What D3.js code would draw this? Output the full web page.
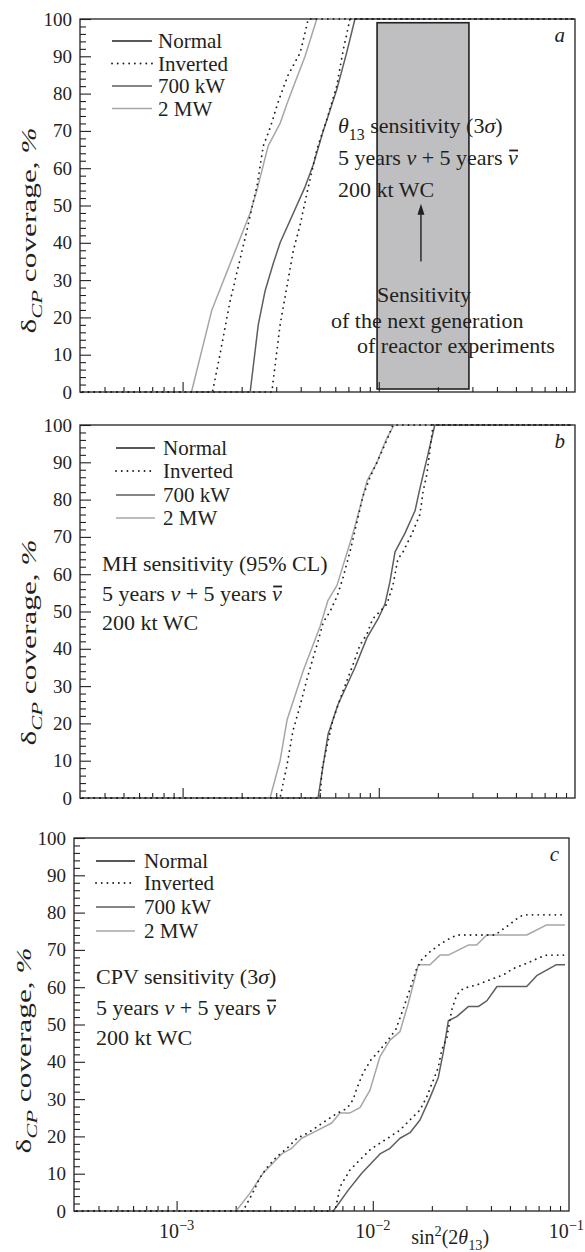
<!DOCTYPE html>
<html>
<head>
<meta charset="utf-8">
<script src="https://cdnjs.cloudflare.com/ajax/libs/d3/7.8.5/d3.min.js"></script>
<style>
  html, body { margin: 0; padding: 0; background: #fff; }
  svg { display: block; }
  text { font-family: "Liberation Serif", "Times New Roman", serif; fill: #231f20; }
</style>
</head>
<body>
<svg id="fig" width="585" height="1252" font-family="Liberation Serif"></svg>
<script>
// ---------------- data: sin^2(2θ13) vs δCP coverage (%) ----------------
const X_MIN = 3e-4, X_MAX = 0.1;

// (a) θ13 sensitivity (3σ)
const a700NormalX = [3.1e-4, 2.21e-3, 2.43e-3, 2.63e-3, 2.90e-3, 3.14e-3, 4.21e-3, 4.64e-3, 5.21e-3, 6.10e-3, 6.86e-3, 7.56e-3, 0.098];
const a700NormalY = [0, 0, 18, 27, 34.5, 40, 55, 61, 70, 81, 91, 100, 100];
const a700InvertedX = [3.1e-4, 2.85e-3, 3.14e-3, 3.67e-3, 3.98e-3, 4.29e-3, 4.83e-3, 5.43e-3, 6.10e-3, 6.59e-3, 7.13e-3, 0.098];
const a700InvertedY = [0, 0, 18, 38, 45, 53, 65, 73, 82, 91.7, 100, 100];
const a2MWNormalX = [3.1e-4, 1.11e-3, 1.41e-3, 2.21e-3, 2.39e-3, 2.73e-3, 3.14e-3, 3.39e-3, 3.74e-3, 4.21e-3, 4.83e-3, 0.098];
const a2MWNormalY = [0, 0, 22, 48, 54, 66, 72, 77, 83, 90, 100, 100];
const a2MWInvertedX = [3.1e-4, 1.42e-3, 1.55e-3, 1.74e-3, 2.12e-3, 2.29e-3, 2.39e-3, 2.58e-3, 2.80e-3, 3.08e-3, 3.45e-3, 3.98e-3, 4.37e-3, 0.098];
const a2MWInvertedY = [0, 0, 10, 24, 43, 51, 55, 66, 71, 78, 85, 91, 100, 100];
const reactorBandX = [0.0098, 0.0288];
const reactorBandY = [0.8, 99];
const reactorArrowX = 0.0164;
const reactorArrowY = [35, 50.5];

// (b) MH sensitivity (95% CL)
const b700NormalX = [3.1e-4, 4.90e-3, 5.51e-3, 6.19e-3, 7.56e-3, 8.71e-3, 9.91e-3, 1.075e-2, 1.14e-2, 1.21e-2, 1.36e-2, 1.53e-2, 1.62e-2, 1.76e-2, 1.93e-2, 0.098];
const b700NormalY = [0, 0, 17, 25, 35, 43, 48, 52, 58, 66, 71, 77, 83, 91, 100, 100];
const b700InvertedX = [3.1e-4, 5.02e-3, 5.14e-3, 5.45e-3, 5.84e-3, 6.49e-3, 7.30e-3, 8.02e-3, 8.71e-3, 9.30e-3, 1.014e-2, 1.10e-2, 1.18e-2, 1.25e-2, 1.33e-2, 1.48e-2, 1.62e-2, 1.68e-2, 1.76e-2, 1.82e-2, 1.89e-2, 0.098];
const b700InvertedY = [0, 0, 8, 14, 21, 28, 35, 41, 44, 48, 50, 52, 57, 64, 66, 71, 76, 82, 87, 93, 100, 100];
const b2MWNormalX = [3.1e-4, 2.79e-3, 3.14e-3, 3.41e-3, 4.11e-3, 5.02e-3, 5.51e-3, 6.12e-3, 7.39e-3, 8.71e-3, 9.79e-3, 1.088e-2, 1.196e-2, 0.098];
const b2MWNormalY = [0, 0, 10, 21, 34, 46, 53, 57, 71, 85, 90, 96, 100, 100];
const b2MWInvertedX = [3.1e-4, 3.14e-3, 3.41e-3, 3.65e-3, 3.98e-3, 4.31e-3, 4.90e-3, 5.20e-3, 5.64e-3, 6.12e-3, 6.57e-3, 7.13e-3, 7.74e-3, 8.31e-3, 9.02e-3, 9.79e-3, 1.10e-2, 1.18e-2, 0.098];
const b2MWInvertedY = [0, 0, 9, 18, 25, 32, 42, 47, 50, 54, 59, 66, 74, 81, 86, 90, 96, 100, 100];

// (c) CPV sensitivity (3σ)
const c700NormalX = [3.1e-4, 6.29e-3, 7.50e-3, 8.78e-3, 1.088e-2, 1.224e-2, 1.376e-2, 1.547e-2, 1.74e-2, 1.957e-2, 2.157e-2, 2.287e-2, 2.426e-2, 2.677e-2, 3.067e-2, 3.45e-2, 3.82e-2, 4.295e-2, 6.087e-2, 6.845e-2, 8.586e-2, 9.54e-2];
const c700NormalY = [0, 0, 5.6, 10.1, 15.3, 16.8, 19.5, 21, 24.4, 30.4, 35.8, 42.5, 51, 52.1, 54.8, 54.8, 56.4, 60.2, 60.2, 63.1, 66, 66];
const c700InvertedX = [3.1e-4, 6.42e-3, 6.81e-3, 7.65e-3, 8.60e-3, 9.68e-3, 1.088e-2, 1.224e-2, 1.376e-2, 1.547e-2, 1.74e-2, 1.883e-2, 2.034e-2, 2.157e-2, 2.245e-2, 2.381e-2, 2.525e-2, 2.677e-2, 2.893e-2, 3.384e-2, 3.956e-2, 4.626e-2, 5.202e-2, 6.087e-2, 7.115e-2, 7.696e-2, 9.54e-2];
const c700InvertedY = [0, 0, 6.5, 11, 13.7, 16.4, 18.2, 19.9, 21.7, 24.4, 27.1, 30.6, 35.1, 38.5, 43.2, 46.3, 53.9, 57.9, 59.7, 60.6, 62, 63.3, 65, 66.4, 68, 68.6, 68.6];
const c2MWNormalX = [3.1e-4, 2.009e-3, 2.366e-3, 2.766e-3, 3.434e-3, 3.86e-3, 4.342e-3, 5.076e-3, 6.173e-3, 6.806e-3, 7.652e-3, 8.603e-3, 9.676e-3, 1.088e-2, 1.224e-2, 1.376e-2, 1.517e-2, 1.706e-2, 1.957e-2, 2.2e-2, 2.426e-2, 3.067e-2, 3.384e-2, 3.806e-2, 6.087e-2, 7.696e-2, 9.54e-2];
const c2MWNormalY = [0, 0, 4.8, 10.2, 15.3, 16.8, 19.5, 21.3, 23.6, 26.3, 26.3, 27.7, 32.4, 41.4, 45.8, 48.1, 55.7, 66, 66, 68.6, 68.6, 71.3, 71.3, 74, 74, 76.7, 76.7];
const c2MWInvertedX = [3.1e-4, 2.179e-3, 2.451e-3, 2.661e-3, 2.924e-3, 3.249e-3, 3.653e-3, 4.108e-3, 4.619e-3, 5.076e-3, 5.842e-3, 6.569e-3, 7.387e-3, 7.925e-3, 8.306e-3, 8.916e-3, 9.79e-3, 1.088e-2, 1.224e-2, 1.313e-2, 1.425e-2, 1.547e-2, 1.674e-2, 1.781e-2, 1.957e-2, 2.2e-2, 2.475e-2, 2.686e-2, 4.197e-2, 4.888e-2, 5.627e-2, 6.038e-2, 9.54e-2];
const c2MWInvertedY = [0, 0, 5, 9, 12, 14.6, 16.8, 19.5, 20.8, 22.2, 24.4, 26.2, 27.5, 29.8, 33, 37, 40.5, 43.2, 46.5, 48.8, 54, 59.5, 65, 67.5, 69.5, 71.5, 73.1, 74, 74, 76.5, 79, 79.4, 79.4];

// axis ticks and labels
const yMajorTicks = [0, 10, 20, 30, 40, 50, 60, 70, 80, 90, 100];
const yMinorTicks = d3.range(0, 101, 2).filter(v => v % 10 !== 0);
const xMajorTicks = [1e-3, 1e-2, 1e-1];
const xMajorExponents = ["\u22123", "\u22122", "\u22121"];
const xMinorTicks = [4e-4, 5e-4, 6e-4, 7e-4, 8e-4, 9e-4,
                     2e-3, 3e-3, 4e-3, 5e-3, 6e-3, 7e-3, 8e-3, 9e-3,
                     2e-2, 3e-2, 4e-2, 5e-2, 6e-2, 7e-2, 8e-2, 9e-2];
const legendLabels = ["Normal", "Inverted", "700 kW", "2 MW"];

// ---------------- styles ----------------
const INK = "#231f20";
const NOTE_SIZE = 22;
const STYLE = {
  normal:   { stroke: INK,       width: 1.5, dash: null },
  inverted: { stroke: INK,       width: 1.8, dash: "0.1 5.6" },
  kw700:    { stroke: "#5e5e5e", width: 1.5, dash: null },
  mw2:      { stroke: "#a6a6a6", width: 1.5, dash: null }
};
const legendStyles = [STYLE.normal, STYLE.inverted, STYLE.kw700, STYLE.mw2];

const svg = d3.select("#fig");

// rich text helper: parts = [{t, it, sub, sup, cls}]
function richText(parent, x, y, parts, size, anchor) {
  const t = parent.append("text")
    .attr("x", x).attr("y", y)
    .attr("font-size", size)
    .attr("text-anchor", anchor || "start");
  let shift = 0;
  parts.forEach(p => {
    const ts = t.append("tspan").text(p.t);
    if (p.it) ts.attr("font-style", "italic");
    if (p.cls) ts.attr("class", p.cls);
    let target = 0;
    if (p.sub) { target = size * 0.3; ts.attr("font-size", size * 0.72); }
    if (p.sup) { target = -size * 0.38; ts.attr("font-size", size * 0.72); }
    if (target !== shift) { ts.attr("dy", target - shift); shift = target; }
  });
  return t;
}

// put an overbar above every tspan tagged "bar"
function addOverbars(parent, textSel, size) {
  textSel.selectAll("tspan.bar").each(function () {
    const start = this.getStartPositionOfChar(0);
    const w = this.getComputedTextLength();
    parent.append("line")
      .attr("x1", start.x + w * 0.12).attr("x2", start.x + w * 1.02)
      .attr("y1", start.y - size * 0.66).attr("y2", start.y - size * 0.66)
      .attr("stroke", INK).attr("stroke-width", 1.8);
  });
}

const beamLine = [
  { t: "5 years " }, { t: "\u03bd", it: true }, { t: " + 5 years  " }, { t: "\u03bd", it: true, cls: "bar" }
];

const panels = [
  {
    id: "a", box: { l: 80, t: 19, r: 575, b: 392 },
    curves: [
      { x: a2MWNormalX, y: a2MWNormalY, s: STYLE.mw2 },
      { x: a700NormalX, y: a700NormalY, s: STYLE.kw700 },
      { x: a2MWInvertedX, y: a2MWInvertedY, s: STYLE.inverted },
      { x: a700InvertedX, y: a700InvertedY, s: STYLE.inverted }
    ],
    legend: { x0: 32, x1: 72, tx: 78, rows: [22, 44.5, 67, 89.5] },
    notes: { x: 258, rows: [114, 146, 178],
      lines: [[{ t: "\u03b8", it: true }, { t: "13", sub: true }, { t: " sensitivity (3" }, { t: "\u03c3", it: true }, { t: ")" }], beamLine, [{ t: "200 kt WC" }]] },
    title: { x: 36, shift: 25 }, xLabels: false
  },
  {
    id: "b", box: { l: 80, t: 425, r: 575, b: 798 },
    curves: [
      { x: b2MWNormalX, y: b2MWNormalY, s: STYLE.mw2 },
      { x: b700NormalX, y: b700NormalY, s: STYLE.kw700 },
      { x: b2MWInvertedX, y: b2MWInvertedY, s: STYLE.inverted },
      { x: b700InvertedX, y: b700InvertedY, s: STYLE.inverted }
    ],
    legend: { x0: 36, x1: 75, tx: 83, rows: [23, 46, 70, 93] },
    notes: { x: 22, rows: [146, 176, 205],
      lines: [[{ t: "MH sensitivity (95% CL)" }], beamLine, [{ t: "200 kt WC" }]] },
    title: { x: 36, shift: 31 }, xLabels: false
  },
  {
    id: "c", box: { l: 74, t: 838, r: 569, b: 1211 },
    curves: [
      { x: c2MWNormalX, y: c2MWNormalY, s: STYLE.mw2 },
      { x: c700NormalX, y: c700NormalY, s: STYLE.kw700 },
      { x: c2MWInvertedX, y: c2MWInvertedY, s: STYLE.inverted },
      { x: c700InvertedX, y: c700InvertedY, s: STYLE.inverted }
    ],
    legend: { x0: 22, x1: 61, tx: 70, rows: [23, 45, 69, 93] },
    notes: { x: 22, rows: [146, 177, 207],
      lines: [[{ t: "CPV sensitivity (3" }, { t: "\u03c3", it: true }, { t: ")" }], beamLine, [{ t: "200 kt WC" }]] },
    title: { x: 31, shift: 26 }, xLabels: true
  }
];

panels.forEach(p => {
  const { l, t, r, b } = p.box;
  const x = d3.scaleLog().domain([X_MIN, X_MAX]).range([l, r]);
  const y = d3.scaleLinear().domain([0, 100]).range([b, t]);
  const g = svg.append("g").attr("class", "panel-" + p.id);

  // reactor-experiment band (panel a)
  if (p.id === "a") {
    g.append("rect")
      .attr("x", x(reactorBandX[0])).attr("width", x(reactorBandX[1]) - x(reactorBandX[0]))
      .attr("y", y(reactorBandY[1])).attr("height", y(reactorBandY[0]) - y(reactorBandY[1]))
      .attr("fill", "#bfbfc1").attr("stroke", INK).attr("stroke-width", 1.6);
  }

  // ticks (inside the frame)
  const axes = [
    { gen: d3.axisLeft(y).tickValues(yMinorTicks).tickSize(-6).tickFormat(""), tr: `translate(${l},0)` },
    { gen: d3.axisLeft(y).tickValues(yMajorTicks).tickSize(-11).tickPadding(8).tickFormat(d3.format("d")), tr: `translate(${l},0)` },
    { gen: d3.axisBottom(x).tickValues(xMinorTicks).tickSize(-5).tickFormat(""), tr: `translate(0,${b})` },
    { gen: d3.axisBottom(x).tickValues(xMajorTicks.slice(0, 2)).tickSize(-10).tickFormat(""), tr: `translate(0,${b})` }
  ];
  axes.forEach(a => {
    const ag = g.append("g").attr("transform", a.tr).call(a.gen);
    ag.select(".domain").remove();
    ag.attr("font-family", null).attr("font-size", null);
    ag.selectAll("line").attr("stroke", INK).attr("stroke-width", 1.1);
    ag.selectAll("text").attr("font-size", 19).attr("fill", INK);
  });

  // frame
  g.append("rect").attr("x", l).attr("y", t).attr("width", r - l).attr("height", b - t)
    .attr("fill", "none").attr("stroke", INK).attr("stroke-width", 1.3);

  // y-axis title
  const cy = (t + b) / 2 + p.title.shift;
  const yt = richText(g, 0, 0, [{ t: "\u03b4" }, { t: "CP", it: true, sub: true }, { t: " coverage, " }, { t: "%", it: true }], 21, "middle");
  yt.attr("textLength", 206).attr("lengthAdjust", "spacingAndGlyphs")
    .attr("transform", `translate(${p.title.x},${cy}) rotate(-90)`);

  // legend
  legendLabels.forEach((lab, i) => {
    const st = legendStyles[i];
    const ly = t + p.legend.rows[i];
    g.append("line")
      .attr("x1", l + p.legend.x0).attr("x2", l + p.legend.x1)
      .attr("y1", ly).attr("y2", ly)
      .attr("stroke", st.stroke).attr("stroke-width", st.width)
      .attr("stroke-dasharray", st.dash).attr("stroke-linecap", st.dash ? "round" : "butt");
    g.append("text").attr("x", l + p.legend.tx).attr("y", ly + 7)
      .attr("font-size", 21).text(lab);
  });

  // annotation block
  p.notes.lines.forEach((parts, i) => {
    const tx = richText(g, l + p.notes.x, t + p.notes.rows[i], parts, NOTE_SIZE);
    addOverbars(g, tx, NOTE_SIZE);
  });

  // panel letter
  g.append("text").attr("x", r - 10).attr("y", t + 23).attr("text-anchor", "end")
    .attr("font-size", 21).attr("font-style", "italic").text(p.id);

  // reactor sensitivity annotation (panel a)
  if (p.id === "a") {
    const ax = x(reactorArrowX);
    g.append("line").attr("x1", ax).attr("x2", ax)
      .attr("y1", y(reactorArrowY[0])).attr("y2", y(reactorArrowY[1]) + 9)
      .attr("stroke", INK).attr("stroke-width", 1.4);
    const tip = y(reactorArrowY[1]);
    g.append("path").attr("d", `M${ax},${tip} L${ax - 3.5},${tip + 11} L${ax + 3.5},${tip + 11} Z`).attr("fill", INK);
    [["Sensitivity", 297, 283], ["of the next generation", 251, 309], ["of reactor experiments", 277, 334]]
      .forEach(([s, dx, dy]) => g.append("text").attr("x", l + dx).attr("y", t + dy).attr("font-size", NOTE_SIZE).text(s));
  }

  // curves
  const line = d3.line().x(d => x(d[0])).y(d => y(d[1]));
  p.curves.forEach(c => {
    g.append("path").datum(d3.zip(c.x, c.y)).attr("d", line)
      .attr("fill", "none").attr("stroke", c.s.stroke).attr("stroke-width", c.s.width)
      .attr("stroke-dasharray", c.s.dash).attr("stroke-linecap", c.s.dash ? "round" : "butt")
      .attr("stroke-linejoin", "round");
  });

  // x tick labels and axis title (bottom panel)
  if (p.xLabels) {
    xMajorTicks.forEach((v, i) => {
      const last = i === xMajorTicks.length - 1;
      richText(g, last ? 584 : x(v), b + 27, [{ t: "10" }, { t: xMajorExponents[i], sup: true }], 20, last ? "end" : "middle");
    });
    richText(g, x(0.0248), b + 33, [{ t: "sin" }, { t: "2", sup: true }, { t: "(2" }, { t: "\u03b8", it: true }, { t: "13", sub: true }, { t: ")" }], 20, "middle");
  }
});
</script>
</body>
</html>
